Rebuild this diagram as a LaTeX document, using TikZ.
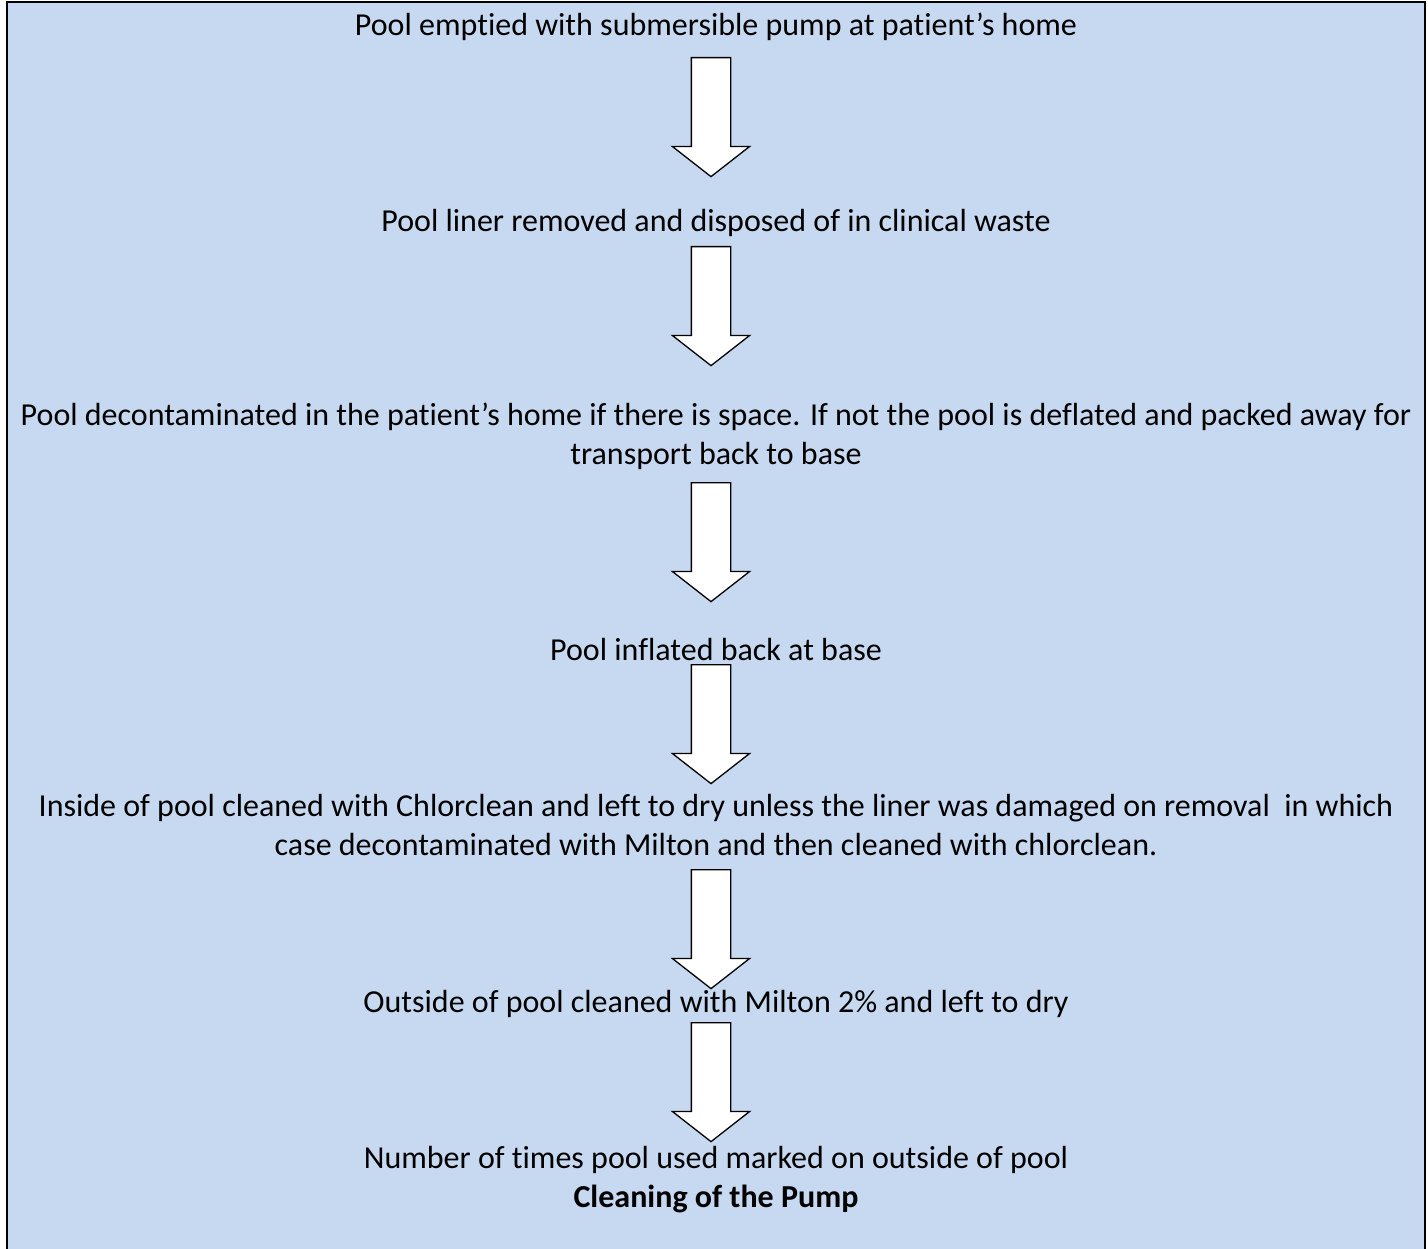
\documentclass[tikz,border=0pt]{standalone}
\usepackage{fontspec}
\setmainfont{Carlito}[Ligatures=NoCommon]
\usepackage{tikz}
\usetikzlibrary{shapes.arrows}
\definecolor{poolblue}{RGB}{198,217,240}

\begin{document}
\begin{tikzpicture}[x=1pt, y=-1pt, t/.style={anchor=base, align=center, inner sep=0pt, font=\fontsize{32}{39.5}\selectfont}, a/.style={shape=single arrow, draw=black, fill=white, line width=1.3pt, shape border rotate=270, anchor=tail, inner sep=19pt, minimum height=119pt, minimum width=77pt, single arrow head extend=19pt, single arrow tip angle=104, single arrow head indent=0pt}]
		\useasboundingbox (0,0) rectangle (1428,1249);
		\fill[poolblue] (7,2) rectangle (1425,1249);
		\draw[line width=1.5pt] (7,1249) -- (7,2) -- (1425,2) -- (1425,1249);

		\node[t] (S1) at (716,35.5) {Pool emptied with submersible pump at patient’s home};
		\node[t] (S2) at (716,231.5) {Pool liner removed and disposed of in clinical waste};
		\node[t] (S3) at (716,464.5) {Pool decontaminated in the patient’s home if there is space. If not the pool is deflated and packed away for\\transport back to base};
		\node[t] (S4) at (716,660.5) {Pool inflated back at base};
		\node[t] (S5) at (716,855.5) {Inside of pool cleaned with Chlorclean and left to dry unless the liner was damaged on removal\ \ in which\\case decontaminated with Milton and then cleaned with chlorclean.};
		\node[t] (S6) at (716,1012.5) {Outside of pool cleaned with Milton 2\% and left to dry};
		\node[t] (S7) at (716,1207.5) {Number of times pool used marked on outside of pool\\\textbf{Cleaning of the Pump}};

		\node[a] (A1) at (711,57) {};
		\node[a] (A2) at (711,246) {};
		\node[a] (A3) at (711,482) {};
		\node[a] (A4) at (711,664) {};
		\node[a] (A5) at (711,869) {};
		\node[a] (A6) at (711,1022) {};
	\end{tikzpicture}
\end{document}
